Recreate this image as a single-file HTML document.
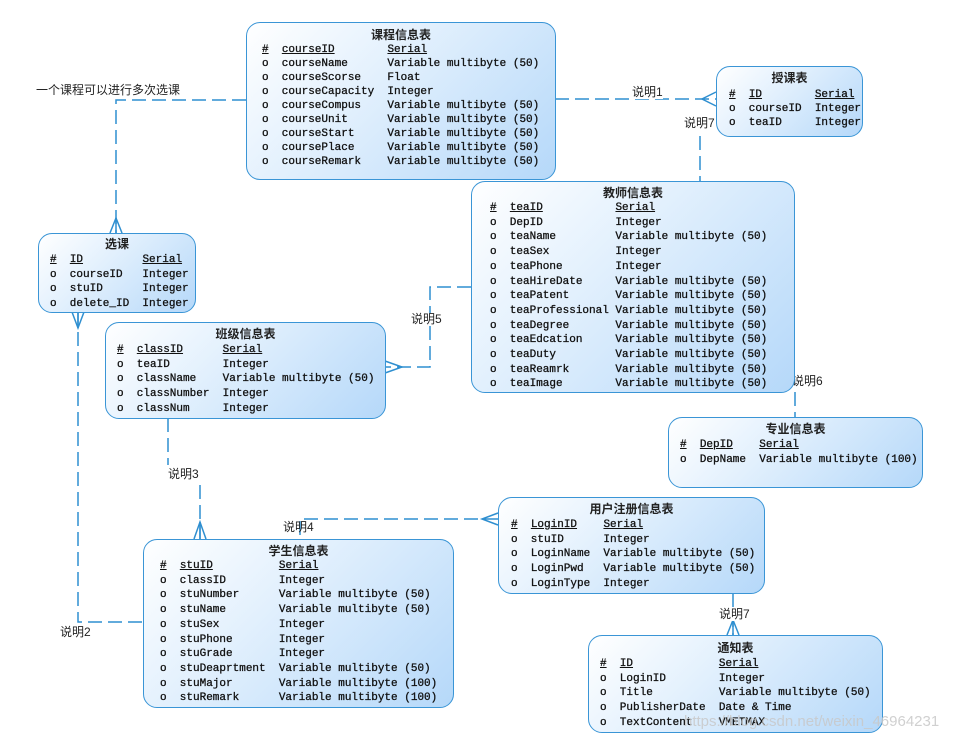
<!DOCTYPE html>
<html><head><meta charset="utf-8"><style>
body{margin:0;width:964px;height:744px;background:#fff;position:relative;overflow:hidden;font-family:"Liberation Mono","Noto Sans CJK SC",monospace;font-size:11px;color:#111}
.t{position:absolute;border:1.5px solid #3a95d6;border-radius:14px;background:linear-gradient(135deg,#ffffff 0%,#e2f0fd 40%,#b5d8f9 100%);box-sizing:border-box}
.h{position:absolute;left:0;right:0;text-align:center;font-family:"Liberation Sans","Noto Sans CJK SC",sans-serif;font-size:12px;font-weight:bold;color:#222}
.r{position:absolute;white-space:pre;line-height:14px;-webkit-text-stroke:0.3px #111}
.u{text-decoration:underline}
.l{position:absolute;font-family:"Liberation Sans","Noto Sans CJK SC",sans-serif;font-size:12px;color:#222;white-space:nowrap;background:#fff;line-height:13px}
svg{position:absolute;left:0;top:0}
</style></head><body>
<svg width="964" height="744">
<g stroke="#2f8fd0" stroke-width="1.5" fill="none" stroke-dasharray="14,6">
<polyline points="246,100 116,100 116,233"/>
<line x1="555" y1="99" x2="716" y2="99"/>
<line x1="700" y1="136" x2="700" y2="181"/>
<polyline points="471,287 430,287 430,367 385,367"/>
<line x1="795" y1="392" x2="795" y2="417"/>
<line x1="168" y1="418" x2="168" y2="465"/>
<line x1="200" y1="485" x2="200" y2="539"/>
<polyline points="78,312 78,622 143,622"/>
<polyline points="498,519 300,519 300,539"/>
<line x1="733" y1="593" x2="733" y2="635"/>
</g>
<g stroke="#2f8fd0" stroke-width="1.5" fill="none">
<polyline points="110,233 116,218 122,233"/><line x1="116" y1="218" x2="116" y2="233"/>
<polyline points="716,92 702,99 716,106"/>
<polyline points="385,361 402,367 385,373"/>
<polyline points="72,312 78,328 84,312"/><line x1="78" y1="312" x2="78" y2="328"/>
<polyline points="194,539 200,522 206,539"/><line x1="200" y1="522" x2="200" y2="539"/>
<polyline points="498,513 482,519 498,525"/>
<polyline points="727,635 733,620 739,635"/><line x1="733" y1="620" x2="733" y2="635"/>
</g>
</svg>
<div class="l" style="left:36px;top:84px">一个课程可以进行多次选课</div>
<div class="l" style="left:632px;top:86px">说明1</div>
<div class="l" style="left:684px;top:117px">说明7</div>
<div class="l" style="left:411px;top:313px">说明5</div>
<div class="l" style="left:792px;top:375px;background:none">说明6</div>
<div class="l" style="left:168px;top:468px">说明3</div>
<div class="l" style="left:283px;top:521px;background:none">说明4</div>
<div class="l" style="left:60px;top:626px">说明2</div>
<div class="l" style="left:719px;top:608px">说明7</div>

<div class="t" style="left:246px;top:22px;width:310px;height:158px"><div class="h" style="top:3px">课程信息表</div>
<div class="r" style="left:15px;top:20px"><span class="u">#</span>  <span class="u">courseID</span>        <span class="u">Serial</span>
o  courseName      Variable multibyte (50)
o  courseScorse    Float
o  courseCapacity  Integer
o  courseCompus    Variable multibyte (50)
o  courseUnit      Variable multibyte (50)
o  courseStart     Variable multibyte (50)
o  coursePlace     Variable multibyte (50)
o  courseRemark    Variable multibyte (50)</div></div>

<div class="t" style="left:716px;top:66px;width:147px;height:71px"><div class="h" style="top:2px">授课表</div>
<div class="r" style="left:12px;top:21px"><span class="u">#</span>  <span class="u">ID</span>        <span class="u">Serial</span>
o  courseID  Integer
o  teaID     Integer</div></div>

<div class="t" style="left:471px;top:181px;width:324px;height:212px"><div class="h" style="top:2px">教师信息表</div>
<div class="r" style="left:18px;top:19px;line-height:14.7px"><span class="u">#</span>  <span class="u">teaID</span>           <span class="u">Serial</span>
o  DepID           Integer
o  teaName         Variable multibyte (50)
o  teaSex          Integer
o  teaPhone        Integer
o  teaHireDate     Variable multibyte (50)
o  teaPatent       Variable multibyte (50)
o  teaProfessional Variable multibyte (50)
o  teaDegree       Variable multibyte (50)
o  teaEdcation     Variable multibyte (50)
o  teaDuty         Variable multibyte (50)
o  teaReamrk       Variable multibyte (50)
o  teaImage        Variable multibyte (50)</div></div>

<div class="t" style="left:38px;top:233px;width:158px;height:80px"><div class="h" style="top:1px">选课</div>
<div class="r" style="left:11px;top:19px;line-height:14.7px"><span class="u">#</span>  <span class="u">ID</span>         <span class="u">Serial</span>
o  courseID   Integer
o  stuID      Integer
o  delete_ID  Integer</div></div>

<div class="t" style="left:105px;top:322px;width:281px;height:97px"><div class="h" style="top:2px">班级信息表</div>
<div class="r" style="left:11px;top:20px;line-height:14.7px"><span class="u">#</span>  <span class="u">classID</span>      <span class="u">Serial</span>
o  teaID        Integer
o  className    Variable multibyte (50)
o  classNumber  Integer
o  classNum     Integer</div></div>

<div class="t" style="left:668px;top:417px;width:255px;height:71px"><div class="h" style="top:2px">专业信息表</div>
<div class="r" style="left:11px;top:20px;line-height:14.7px"><span class="u">#</span>  <span class="u">DepID</span>    <span class="u">Serial</span>
o  DepName  Variable multibyte (100)</div></div>

<div class="t" style="left:498px;top:497px;width:267px;height:97px"><div class="h" style="top:2px">用户注册信息表</div>
<div class="r" style="left:12px;top:20px;line-height:14.7px"><span class="u">#</span>  <span class="u">LoginID</span>    <span class="u">Serial</span>
o  stuID      Integer
o  LoginName  Variable multibyte (50)
o  LoginPwd   Variable multibyte (50)
o  LoginType  Integer</div></div>

<div class="t" style="left:143px;top:539px;width:311px;height:169px"><div class="h" style="top:2px">学生信息表</div>
<div class="r" style="left:16px;top:19px;line-height:14.7px"><span class="u">#</span>  <span class="u">stuID</span>          <span class="u">Serial</span>
o  classID        Integer
o  stuNumber      Variable multibyte (50)
o  stuName        Variable multibyte (50)
o  stuSex         Integer
o  stuPhone       Integer
o  stuGrade       Integer
o  stuDeaprtment  Variable multibyte (50)
o  stuMajor       Variable multibyte (100)
o  stuRemark      Variable multibyte (100)</div></div>

<div class="t" style="left:588px;top:635px;width:295px;height:98px"><div class="h" style="top:3px">通知表</div>
<div class="r" style="left:11px;top:21px;line-height:14.7px"><span class="u">#</span>  <span class="u">ID</span>             <span class="u">Serial</span>
o  LoginID        Integer
o  Title          Variable multibyte (50)
o  PublisherDate  Date &amp; Time
o  TextContent    VMETMAX</div></div>

<div style="position:absolute;left:684px;top:713px;font-family:'Liberation Sans',sans-serif;font-size:15px;color:rgba(200,200,200,0.85)">https://blog.csdn.net/weixin_46964231</div>
</body></html>
